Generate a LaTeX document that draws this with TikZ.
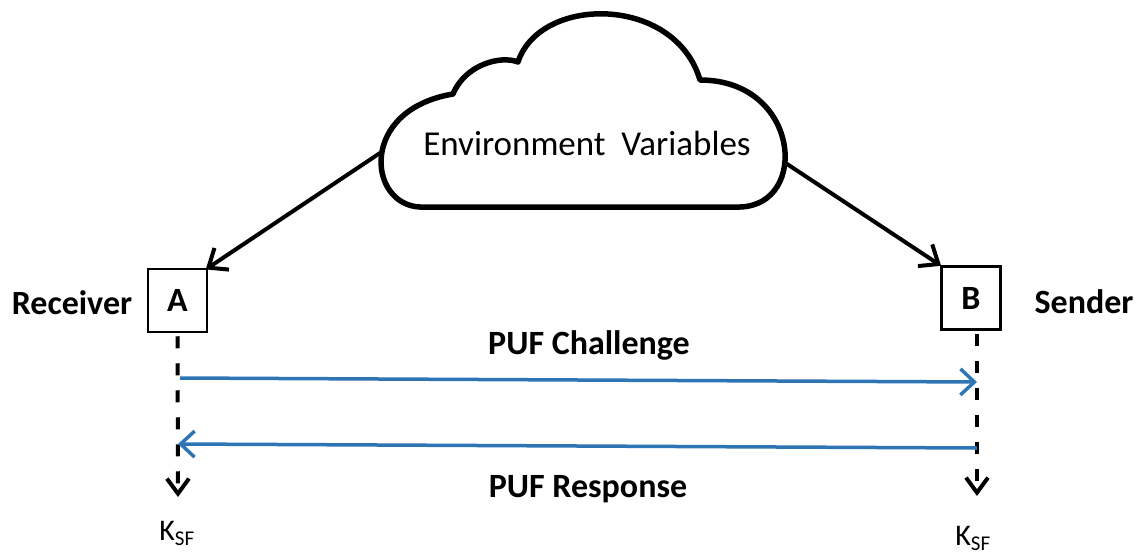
\documentclass[tikz,border=0pt]{standalone}
\usepackage{fontspec}
\setmainfont{Carlito}
\usetikzlibrary{arrows.meta}
\definecolor{pufblue}{RGB}{46,117,182}
\tikzset{
  blk/.style={draw=black, line width=4pt, -{Straight Barb[length=16pt,width=26pt,line width=4pt]}},
  msg/.style={draw=pufblue, line width=3.5pt, -{Straight Barb[length=14pt,width=26pt,line width=3.5pt]}},
  dsh/.style={draw=black, line width=4pt, dash pattern=on 12pt off 15pt, -{Straight Barb[length=15pt,width=22pt,line width=4pt]}},
  party/.style={draw=black, line width=2.5pt, minimum width=59pt, minimum height=63pt, inner sep=0pt, font=\bfseries\fontsize{34}{36}\selectfont},
  lbl/.style={font=\bfseries\fontsize{34}{36}\selectfont, inner sep=0pt},
  key/.style={font=\fontsize{30}{32}\selectfont, inner sep=0pt}
}
\begin{document}
\begin{tikzpicture}[x=1pt,y=-1pt]
\useasboundingbox (0,0) rectangle (1141,554);
% cloud
\draw[line width=5.5pt, fill=white, line join=round]
  (420,207) .. controls (368,205) and (358,110) .. (453,94)
  .. controls (465,65) and (500,55) .. (518,62)
  .. controls (540,-5) and (675,-5) .. (700,80)
  .. controls (800,80) and (810,205) .. (740,207)
  -- cycle;
\node[font=\fontsize{35}{37}\selectfont, inner sep=0pt] (env) at (587,143) {Environment\ \ Variables};
\coordinate (cL) at (380,153);
\coordinate (cR) at (784,162);
% parties
\node[party] (A) at (177.5,300.5) {A};
\node[party] (B) at (971,298) {B};
\node[lbl] (recv) at (72,303) {Receiver};
\node[lbl] (send) at (1084,302) {Sender};
% environment arrows
\draw[blk, shorten >=-3pt] (cL) -- (A.north east);
\draw[blk, shorten >=-1pt] (cR) -- (B.north west);
% key derivation
\coordinate (kA) at (178,497);
\coordinate (kB) at (977,496);
\draw[dsh] (A.south) ++(0,3) -- (kA);
\draw[dsh] (B.south -| kB) ++(0,3) -- (kB);
\node[key] (KA) at (177,533) {K\textsubscript{SF}};
\node[key] (KB) at (973,538) {K\textsubscript{SF}};
% messages
\coordinate (ch1) at (180,378);
\coordinate (ch2) at (977,382);
\coordinate (re1) at (977,448);
\coordinate (re2) at (178,444);
\draw[msg] (ch1) -- (ch2);
\draw[msg] (re1) -- (re2);
\node[lbl] (chal) at (589,345) {PUF Challenge};
\node[lbl] (resp) at (588,489) {PUF Response};
\end{tikzpicture}
\end{document}
